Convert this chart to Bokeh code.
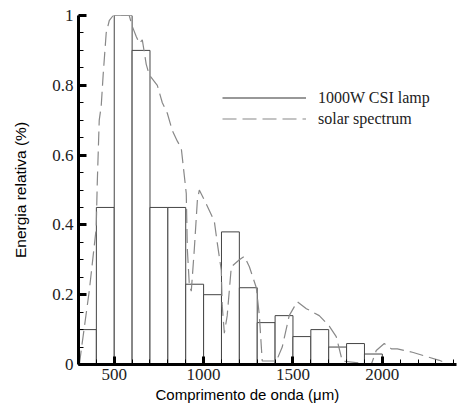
from bokeh.plotting import figure
from bokeh.models import Range1d, Legend, LegendItem, SingleIntervalTicker, ColumnDataSource, Title
from bokeh.embed import file_html
from bokeh.resources import INLINE

# Lamp spectrum (bars, 100 nm bins)
bin_left = [300, 400, 500, 600, 700, 800, 900, 1000, 1100, 1200, 1300, 1400, 1500, 1600, 1700, 1800, 1900]
bin_right = [400, 500, 600, 700, 800, 900, 1000, 1100, 1200, 1300, 1400, 1500, 1600, 1700, 1800, 1900, 2000]
lamp_values = [0.10, 0.45, 1.00, 0.90, 0.45, 0.45, 0.23, 0.20, 0.38, 0.22, 0.12, 0.14, 0.08, 0.10, 0.05, 0.06, 0.03]

# Solar spectrum (dashed curve)
solar_x = [305, 315, 360, 399, 405, 416, 427, 438, 455, 472, 494, 584, 600, 623, 640, 657, 679, 696,
           741, 769, 797, 825, 853, 875, 903, 909, 920, 931, 948, 965, 976, 1015, 1060, 1076, 1099,
           1104, 1116, 1132, 1155, 1200, 1228, 1256, 1295, 1312, 1328, 1407, 1440, 1479, 1507, 1524,
           1575, 1647, 1703, 1742, 1776, 1938, 1966, 2011, 2050, 2084, 2168, 2246, 2319, 2375]
solar_y = [0.0, 0.04, 0.21, 0.39, 0.52, 0.70, 0.74, 0.83, 0.95, 0.985, 1.0, 1.0, 0.97, 0.94, 0.92, 0.93, 0.86, 0.83,
           0.80, 0.75, 0.72, 0.67, 0.64, 0.62, 0.49, 0.33, 0.23, 0.21, 0.33, 0.47, 0.50, 0.46, 0.41, 0.35, 0.27,
           0.17, 0.09, 0.14, 0.28, 0.30, 0.31, 0.28, 0.22, 0.14, 0.01, 0.01, 0.05, 0.14, 0.165, 0.18,
           0.16, 0.14, 0.11, 0.08, 0.01, 0.0, 0.04, 0.06, 0.045, 0.045, 0.035, 0.023, 0.012, 0.0]

x_ticks = [500, 1000, 1500, 2000]
y_tick_labels = {0: "0", 0.2: "0.2", 0.4: "0.4", 0.6: "0.6", 0.8: "0.8", 1.0: "1"}

p = figure(width=457, height=403, output_backend="svg", toolbar_location=None,
           x_range=Range1d(300, 2415), y_range=Range1d(0, 1),
           min_border_left=78, min_border_right=1, min_border_top=15, min_border_bottom=20)
p.outline_line_color = None
p.xgrid.visible = False
p.ygrid.visible = False
p.background_fill_color = "white"

bars = p.quad(left=bin_left, right=bin_right, bottom=0, top=lamp_values,
              fill_color="white", line_color="#444444", line_width=1)
solar = p.line(solar_x, solar_y, line_color="#888888", line_width=1.2, line_dash="14 6")

# legend glyph renderer for the lamp (a line with a single empty point)
nan_src = ColumnDataSource(data=dict(x=[float("nan")], y=[float("nan")]))
lamp_leg = p.line("x", "y", source=nan_src, line_color="#333333", line_width=1.2)

legend = Legend(items=[LegendItem(label="1000W CSI lamp", renderers=[lamp_leg]),
                       LegendItem(label="solar spectrum", renderers=[solar])],
                location=(144, 235), border_line_color=None, background_fill_alpha=0,
                glyph_width=84, glyph_height=21, label_height=21, spacing=0, padding=0, margin=0,
                label_standoff=12, label_text_font="Liberation Serif", label_text_font_size="16px",
                label_text_color="#222222")
p.add_layout(legend)

for ax in (p.xaxis[0], p.yaxis[0]):
    ax.axis_line_width = 3
    ax.axis_line_color = "black"
    ax.major_tick_in = 8
    ax.major_tick_out = 0
    ax.major_tick_line_width = 3
    ax.major_tick_line_color = "black"
    ax.minor_tick_in = 5
    ax.minor_tick_out = 0
    ax.minor_tick_line_width = 1
    ax.minor_tick_line_color = "black"
    ax.major_label_text_font = "Liberation Serif"
    ax.major_label_text_font_size = "17px"
    ax.major_label_text_color = "#222222"
    ax.axis_label_text_font = "Liberation Sans"
    ax.axis_label_text_font_style = "normal"
    ax.axis_label_text_color = "black"

p.xaxis[0].ticker = SingleIntervalTicker(interval=500, num_minor_ticks=5)
p.yaxis[0].ticker = SingleIntervalTicker(interval=0.2, num_minor_ticks=4)
p.xaxis[0].major_label_overrides = {v: str(v) for v in x_ticks}
p.yaxis[0].major_label_overrides = y_tick_labels
p.yaxis[0].axis_label = "Energia relativa (%)"
p.yaxis[0].axis_label_text_font_size = "15.5px"
p.xaxis[0].major_label_standoff = 4
p.yaxis[0].major_label_standoff = 5
p.yaxis[0].axis_label_standoff = 20

xt = Title(text="Comprimento de onda (μm)", align="left", offset=77, standoff=2,
           text_font="Liberation Sans", text_font_size="15px", text_font_style="normal",
           text_color="black")
p.add_layout(xt, "below")

open("out.html", "w").write(file_html(p, INLINE))
